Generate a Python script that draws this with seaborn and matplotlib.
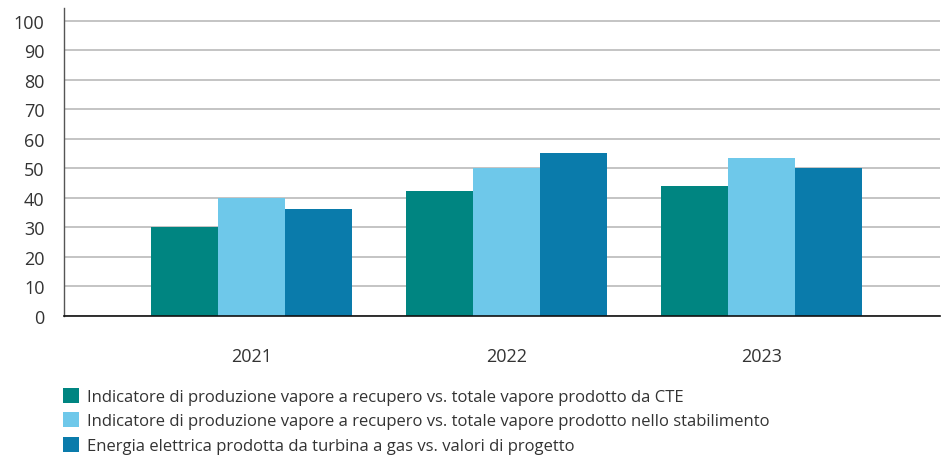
import pandas as pd
import seaborn as sns
import matplotlib.pyplot as plt
from matplotlib.patches import Patch

anni = ['2021', '2022', '2023']
serie = [
    'Indicatore di produzione vapore a recupero vs. totale vapore prodotto da CTE',
    'Indicatore di produzione vapore a recupero vs. totale vapore prodotto nello stabilimento',
    'Energia elettrica prodotta da turbina a gas vs. valori di progetto',
]
vapore_cte = [30.3, 42.5, 44.2]
vapore_stabilimento = [40.0, 50.0, 53.4]
energia_turbina = [36.1, 55.4, 50.0]
colori = ['#008581', '#6EC8EA', '#0A7BAB']

df = pd.DataFrame({
    'anno': anni * 3,
    'serie': [serie[0]] * 3 + [serie[1]] * 3 + [serie[2]] * 3,
    'valore': vapore_cte + vapore_stabilimento + energia_turbina,
})

sns.set_style('white')
plt.rcParams['font.family'] = ['Open Sans', 'DejaVu Sans']

fig = plt.figure(figsize=(9.44, 4.6), dpi=100)
ax = fig.add_axes([64 / 944, 1 - 317 / 460, 876 / 944, 308 / 460])

sns.barplot(data=df, x='anno', y='valore', hue='serie', palette=colori,
            width=0.79, saturation=1, linewidth=0, ax=ax, legend=False)

ax.set_ylim(0, 104.4)
ax.set_xlim(-0.735, 2.70)
ax.set_yticks(range(0, 101, 10))
ax.yaxis.grid(True, color='#b4b4b4', linewidth=1.1)
ax.set_axisbelow(True)
ax.set_xlabel('')
ax.set_ylabel('')
for s in ['top', 'right']:
    ax.spines[s].set_visible(False)
ax.spines['left'].set_color('#555555')
ax.spines['left'].set_linewidth(1)
ax.spines['bottom'].set_color('#111111')
ax.spines['bottom'].set_linewidth(1.2)
ax.tick_params(axis='y', length=0, pad=14, labelsize=13, labelcolor='#333333')
ax.tick_params(axis='x', length=0, pad=22, labelsize=13, labelcolor='#333333')

handles = [Patch(facecolor=c, edgecolor='none') for c in colori]
fig.legend(handles, serie, loc='upper left', bbox_to_anchor=(56 / 944, 1 - 382 / 460),
           frameon=False, fontsize=12, labelcolor='#333333',
           handlelength=1.0, handleheight=1.0, handletextpad=0.45,
           labelspacing=0.45, borderaxespad=0)

fig.savefig('out.png', dpi=100)
